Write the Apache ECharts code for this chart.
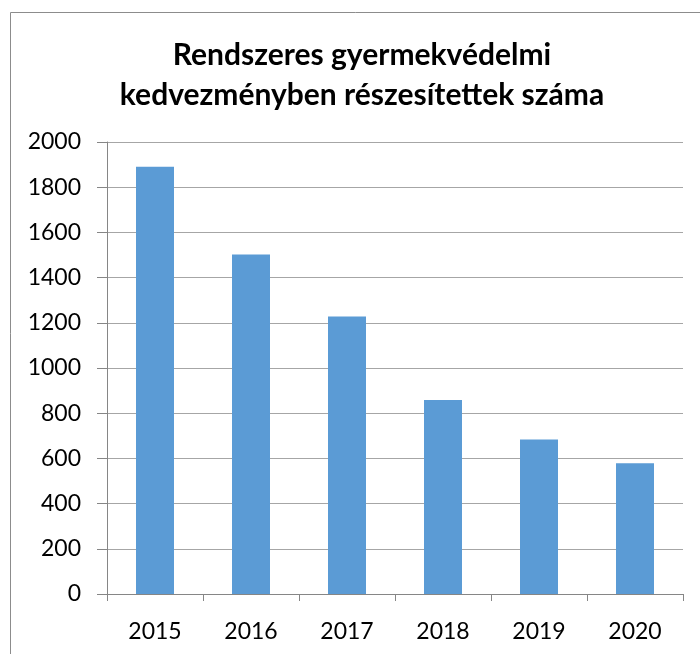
<!DOCTYPE html>
<html>
<head>
<meta charset="utf-8">
<script src="https://cdn.jsdelivr.net/npm/echarts@6/dist/echarts.min.js"></script>
<style>
  html, body { margin: 0; padding: 0; background: #fff; }
  #chart { width: 700px; height: 654px; }
</style>
</head>
<body>
<div id="chart"></div>
<script>
// adatok
const years = ['2015', '2016', '2017', '2018', '2019', '2020'];
const counts = [1890, 1502, 1228, 858, 684, 578];
const titleLines = ['Rendszeres gyermekvédelmi', 'kedvezményben részesítettek száma'];

const myChart = echarts.init(document.getElementById('chart'));

const option = {
    animation: false,
    graphic: [{
        type: 'rect',
        shape: { x: 10.5, y: 12.5, width: 720, height: 700 },
        style: { fill: 'none', stroke: '#8c8c8c', lineWidth: 1 },
        silent: true
    }],
    title: {
        text: titleLines.join('\n'),
        left: 362,
        textAlign: 'center',
        top: 35,
        padding: 0,
        textStyle: {
            fontFamily: 'Lato',
            fontWeight: 'bold',
            fontSize: 30,
            lineHeight: 40,
            color: '#000'
        }
    },
    grid: {
        left: 107,
        right: 17,
        top: 142,
        bottom: 60
    },
    xAxis: {
        type: 'category',
        data: years,
        axisLine: { lineStyle: { color: '#868686', width: 1 } },
        axisTick: { show: true, length: 7, lineStyle: { color: '#868686' } },
        axisLabel: {
            margin: 26,
            fontFamily: 'Lato',
            fontSize: 23,
            color: '#000'
        },
        splitLine: { show: false }
    },
    yAxis: {
        type: 'value',
        min: 0,
        max: 2000,
        interval: 200,
        axisLine: { show: true, lineStyle: { color: '#868686', width: 1 } },
        axisTick: { show: true, length: 10, lineStyle: { color: '#868686' } },
        axisLabel: {
            margin: 26,
            fontFamily: 'Lato',
            fontSize: 23,
            color: '#000',
            padding: [8, 0, 0, 0],
            formatter: v => String(v)
        },
        splitLine: { show: true, lineStyle: { color: '#a6a6a6', width: 1 } }
    },
    series: [{
        type: 'bar',
        data: counts,
        barWidth: 38,
        itemStyle: { color: '#5b9bd5' }
    }]
};

myChart.setOption(option);
</script>
</body>
</html>
